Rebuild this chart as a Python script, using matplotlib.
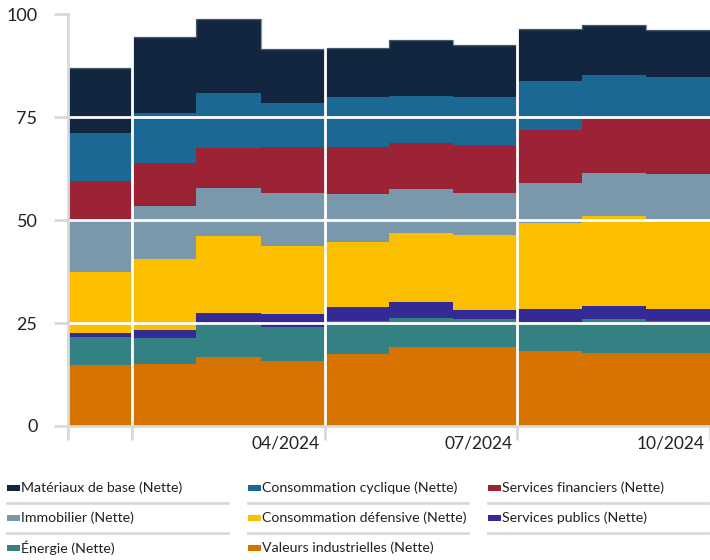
import numpy as np
import matplotlib
matplotlib.use("Agg")
import matplotlib.pyplot as plt
from matplotlib.patches import Rectangle
from matplotlib.lines import Line2D
from matplotlib.transforms import ScaledTranslation

plt.rcParams['font.family'] = ['Lato', 'DejaVu Sans']

# ---- data (bottom of stack first) ----
series_names = [
    "Valeurs industrielles (Nette)",
    "Énergie (Nette)",
    "Services publics (Nette)",
    "Consommation défensive (Nette)",
    "Immobilier (Nette)",
    "Services financiers (Nette)",
    "Consommation cyclique (Nette)",
    "Matériaux de base (Nette)",
]
industrielles = [14.8, 15.1, 16.7, 15.9, 17.6, 19.2, 19.2, 18.2, 17.8, 17.7]
energie       = [6.9, 6.3, 7.8, 8.2, 7.8, 7.0, 6.8, 7.1, 8.3, 7.9]
publics       = [1.0, 1.8, 2.9, 3.1, 3.5, 3.8, 2.2, 3.0, 3.0, 2.8]
defensive     = [14.8, 17.4, 18.8, 16.6, 15.8, 16.9, 18.2, 20.9, 21.8, 21.5]
immobilier    = [12.0, 12.8, 11.6, 12.8, 11.6, 10.6, 10.2, 9.9, 10.5, 11.3]
financiers    = [9.9, 10.6, 9.8, 11.2, 11.5, 11.2, 11.6, 12.9, 13.3, 13.6]
cyclique      = [11.8, 12.1, 13.2, 10.7, 12.0, 11.5, 11.6, 11.8, 10.5, 10.0]
materiaux     = [15.7, 18.5, 18.0, 13.0, 12.1, 13.5, 12.8, 12.6, 12.2, 11.3]
series_values = [industrielles, energie, publics, defensive, immobilier,
                 financiers, cyclique, materiaux]
series_colors = ["#D77300", "#338183", "#332A96", "#FBBF00", "#7A98AB",
                 "#9B2335", "#1B6895", "#12263F"]

tick_positions = [0, 1, 4, 7, 10]
tick_labels = ["", "", "04/2024", "07/2024", "10/2024"]
y_ticks = [0, 25, 50, 75, 100]

# legend order (rows of three), top of stack first
legend_order = [7, 6, 5, 4, 3, 2, 1, 0]

W, H = 710, 560
fig = plt.figure(figsize=(W / 100, H / 100), dpi=100)
ax = fig.add_axes([68 / W, 1 - 426 / H, 1 - 68 / W, (426 - 14.3) / H])

n = len(industrielles)
edges = np.arange(n + 1)
base = np.zeros(n + 1)
for vals, col in zip(series_values, series_colors):
    v = np.append(vals, vals[-1])
    top = base + v
    ax.fill_between(edges, base, top, step='post', color=col, lw=0, zorder=1)
    base = top
# thin outline on the top of the stack
ax.step(edges, base, where='post', color='#5f6f80', lw=1.0, alpha=0.7, zorder=1.5)

ax.set_xlim(0, 10)
ax.set_ylim(0, 100)

grey = '#d9d9d9'
for yv in [25, 50, 75]:
    ax.axhline(yv, color='white', lw=2, zorder=3)
for xv in [1, 4, 7]:
    ax.axvline(xv, color='white', lw=2, zorder=3)

for s in ['top', 'right']:
    ax.spines[s].set_visible(False)
for s in ['left', 'bottom']:
    ax.spines[s].set_color(grey)
    ax.spines[s].set_linewidth(2)
    ax.spines[s].set_zorder(4)

ax.set_yticks(y_ticks)
ax.set_yticklabels([str(t) for t in y_ticks])
ax.set_xticks(tick_positions)
ax.set_xticklabels(tick_labels)
ax.tick_params(axis='y', length=10, width=2, color=grey, pad=12,
               labelsize=13, labelcolor='#222222')
ax.tick_params(axis='x', length=10, width=2, color=grey, pad=-3,
               labelsize=12.5, labelcolor='#222222')
off = ScaledTranslation(-5 / 100, 0, fig.dpi_scale_trans)
for lbl in ax.get_xticklabels():
    lbl.set_ha('right')
    lbl.set_transform(lbl.get_transform() + off)

# ---- manual legend ----
col_x = [7, 248, 488]
col_end = [228, 468, 708]
row_y = [488, 518, 548]
for k, idx in enumerate(legend_order):
    r, c = divmod(k, 3)
    x0, y0 = col_x[c], row_y[r]
    fig.patches.append(Rectangle((x0 / W, 1 - (y0 + 3) / H), 13 / W, 6 / H,
                                 transform=fig.transFigure, facecolor=series_colors[idx],
                                 edgecolor='none'))
    fig.text((x0 + 14) / W, 1 - y0 / H, series_names[idx], ha='left', va='center',
             fontsize=10.2, color='#222222')
    if r < 2:
        yl = 1 - (y0 + 15) / H
        fig.add_artist(Line2D([x0 / W, col_end[c] / W], [yl, yl],
                              transform=fig.transFigure, color=grey, lw=2))

fig.savefig('out.png', dpi=100)
